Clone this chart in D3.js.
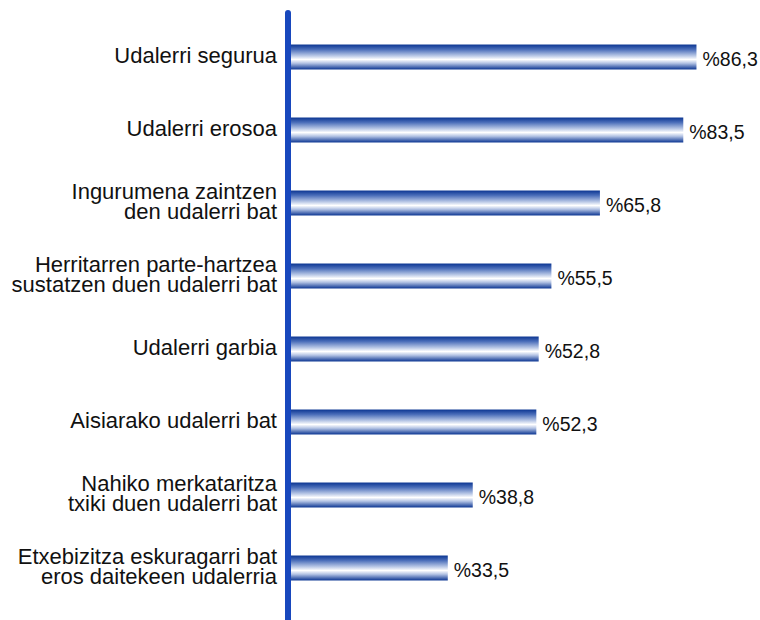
<!DOCTYPE html>
<html><head><meta charset="utf-8">
<script src="https://cdn.jsdelivr.net/npm/d3@7"></script>
<style>body{margin:0;background:#fff;} text{font-family:"Liberation Sans",Arial,sans-serif;}</style>
</head><body><svg id="c" width="760" height="620"></svg>
<script>
const categories = [
  ["Udalerri segurua"],
  ["Udalerri erosoa"],
  ["Ingurumena zaintzen", "den udalerri bat"],
  ["Herritarren parte-hartzea", "sustatzen duen udalerri bat"],
  ["Udalerri garbia"],
  ["Aisiarako udalerri bat"],
  ["Nahiko merkataritza", "txiki duen udalerri bat"],
  ["Etxebizitza eskuragarri bat", "eros daitekeen udalerria"]
];
const values = [86.3, 83.5, 65.8, 55.5, 52.8, 52.3, 38.8, 33.5];
const valueLabels = ["%86,3", "%83,5", "%65,8", "%55,5", "%52,8", "%52,3", "%38,8", "%33,5"];

const svg = d3.select("#c");
const x0 = 290;
const x = d3.scaleLinear().domain([0, 100]).range([x0, x0 + 471]);
const y = d3.scaleBand().domain(d3.range(categories.length)).range([20.5, 604.5]).paddingInner(0.658).paddingOuter(0.329);

const defs = svg.append("defs");
const g = defs.append("linearGradient").attr("id", "bg").attr("x1", 0).attr("y1", 0).attr("x2", 0).attr("y2", 1);
[[0, "#0b3592"], [0.2, "#4c6fba"], [0.45, "#b9c8e6"], [0.6, "#ffffff"], [0.75, "#b3c3e4"], [1, "#0b3592"]]
  .forEach(([o, c]) => g.append("stop").attr("offset", o).attr("stop-color", c));

svg.selectAll("rect.bar").data(values).join("rect").attr("class", "bar")
  .attr("x", x(0)).attr("y", (d, i) => y(i)).attr("width", d => x(d) - x(0)).attr("height", y.bandwidth())
  .attr("fill", "url(#bg)");

svg.selectAll("text.val").data(values).join("text").attr("class", "val")
  .attr("x", d => x(d) + 6).attr("y", (d, i) => y(i) + y.bandwidth() / 2 + 8.5)
  .attr("font-size", 19.5).attr("fill", "#111").text((d, i) => valueLabels[i]);

const lab = svg.selectAll("text.cat").data(categories).join("text").attr("class", "cat")
  .attr("text-anchor", "end").attr("font-size", 22).attr("fill", "#111")
  .attr("y", (d, i) => y(i) + y.bandwidth() / 2 + (d.length === 1 ? 5.5 : -4));
lab.selectAll("tspan").data(d => d).join("tspan")
  .attr("x", 277).attr("dy", (d, j) => j === 0 ? 0 : 19.5).text(d => d);

svg.append("line").attr("x1", 288).attr("x2", 288).attr("y1", 13).attr("y2", 625)
  .attr("stroke", "#1848bd").attr("stroke-width", 6).attr("stroke-linecap", "round");
</script></body></html>
